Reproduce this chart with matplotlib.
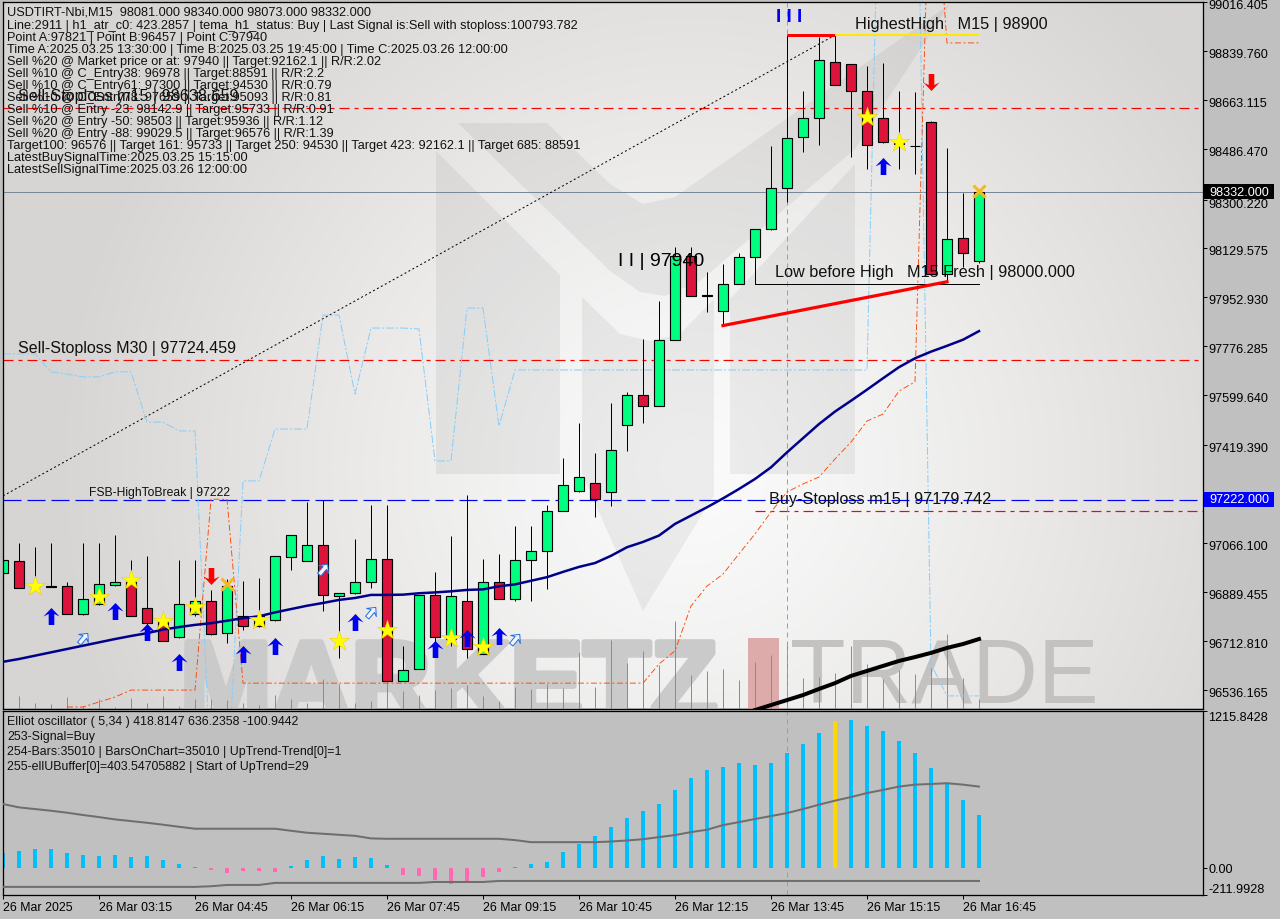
import numpy as np
import matplotlib
matplotlib.use("Agg")
import matplotlib.pyplot as plt
import matplotlib.patheffects as pe
from matplotlib.path import Path
from matplotlib.patches import Polygon, Rectangle
from matplotlib.transforms import Affine2D, ScaledTranslation, blended_transform_factory

plt.rcParams['font.family'] = ['Liberation Sans', 'DejaVu Sans']
plt.rcParams['lines.scale_dashes'] = False

# ---------- data ----------
opens = [96956,97000,96911,96911,96911,96811,96845,96915,96923,96830,96779,96725,96808,96855,96740,96801,96767,96789,97016,97002,97057,96875,96886,96923,97006,96567,96610,96877,96719,96855,96664,96923,96862,97003,97035,97179,97254,97280,97250,97492,97598,97560,97798,98101,97957,97903,97998,98095,98198,98344,98528,98596,98798,98793,98693,98596,98504,98496,98582,98035,98164,98081]
closes = [97004,96902,96909,96908,96808,96862,96916,96925,96803,96778,96711,96844,96856,96738,96909,96765,96803,97017,97093,97057,96877,96884,96923,97006,96567,96606,96877,96725,96873,96682,96923,96862,97003,97035,97179,97273,97302,97225,97399,97598,97560,97798,98100,97957,97959,97998,98095,98196,98344,98524,98596,98805,98715,98693,98499,98512,98508,98498,98035,98160,98110,98332]
highs = [97094,97065,97051,97065,96923,97065,97065,97094,97004,97017,96803,97004,97004,96896,96935,96928,96939,97017,97093,97214,97221,96884,97080,97202,97202,96695,96877,96961,97090,97238,97008,97026,97127,97127,97202,97372,97498,97390,97570,97608,97801,97937,98132,98131,98041,98071,98111,98196,98497,98896,98694,98888,98896,98793,98785,98796,98693,98690,98585,98488,98327,98340]
lows = [96950,96902,96899,96905,96808,96807,96842,96911,96801,96731,96711,96723,96803,96735,96705,96753,96761,96785,96969,97002,96821,96651,96881,96904,96567,96567,96610,96695,96695,96651,96664,96862,96857,96857,96899,97179,97250,97160,97200,97397,97498,97560,97798,97957,97899,97849,97998,97998,98195,98296,98476,98501,98715,98458,98415,98506,98415,98397,98035,98011,98059,98073]
volumes = [80,130,60,50,120,30,100,20,110,60,130,30,100,100,90,60,40,140,100,60,300,250,60,80,330,180,140,190,210,240,130,80,220,200,250,210,570,220,690,460,580,440,880,340,380,400,290,470,540,650,310,320,360,630,450,300,390,350,410,750,310,100]
ma_navy = [96637,96647,96659,96671,96683,96695,96707,96719,96730,96740,96753,96762,96770,96776,96785,96794,96801,96815,96827,96839,96849,96860,96867,96878,96878,96879,96884,96887,96891,96896,96898,96909,96916,96929,96942,96961,96979,96993,97019,97050,97069,97092,97134,97164,97194,97226,97260,97296,97338,97392,97443,97494,97539,97578,97618,97659,97699,97731,97755,97776,97798,97829]
ma_black_bars = list(range(47, 62))
ma_black = [96463,96481,96499,96517,96539,96560,96586,96604,96622,96640,96654,96669,96687,96701,96719]
nan = float('nan')
orange_band = [nan,nan,nan,nan,96474,96474,96492,96510,96535,96535,96535,96535,96535,97223,97223]+[96560]*26+[96629,96676,96838,96910,96953,97026,97098,97177,97249,97278,97303,97368,97429,97505,97530,97613,97646,99657,98868,98868,98868]
skyblue_band = [97747,97747,97747,97682,97674,97664,97664,97682,97682,97501,97501,97469,97469,96214,96142,97289,97289,97476,97476,97476,97887,97887,97602,97840,97840,97840,97837,97361,97361,97912,97912,97487]+[97689]*23+[100144,100144,100108,96629,96514,96514,96514]

star_bars = [2,6,8,10,12,16,21,24,28,30,54,56]
star_prices = [96910,96871,96932,96784,96834,96788,96712,96752,96723,96690,98601,98511]
up_bars = [3,7,9,11,15,17,22,27,29,31,55]
up_prices = [96802,96820,96744,96636,96665,96694,96780,96683,96723,96730,98424]
hollow_bars = [5,20,23,32]
hollow_prices = [96723,96971,96816,96719]
down_bars = [13,58]
down_prices = [96946,98727]
cross_bars = [14,61]
cross_prices = [96917,98334]

osc_hist = [116,132,147,147,116,101,93,101,85,93,62,31,8,-16,-36,-21,-21,-31,16,62,93,70,85,78,23,-54,-62,-93,-124,-101,-70,-31,8,31,47,124,186,248,318,388,442,497,605,698,761,784,815,799,815,892,962,1040,1133,1141,1094,1055,978,885,776,652,528,411]
osc_upper = [494,468,455,442,427,409,393,375,362,349,334,318,303,303,303,303,303,303,287,272,264,256,248,228,225,225,225,225,225,225,225,225,215,199,199,199,199,199,204,212,222,238,254,277,295,331,354,378,401,424,455,489,520,548,579,603,629,644,649,655,644,629]
osc_lower = [-147]*13+[-142,-132,-132,-132]+[-116]*10+[-109]*4+[-101]*31

price_ticks = [99016.405,98839.760,98663.115,98486.470,98300.220,98129.575,97952.930,97776.285,97599.640,97419.390,97242.745,97066.100,96889.455,96712.810,96536.165]
time_ticks = list(range(0, 61, 6))
time_labels = ['26 Mar 2025','26 Mar 03:15','26 Mar 04:45','26 Mar 06:15','26 Mar 07:45','26 Mar 09:15','26 Mar 10:45','26 Mar 12:15','26 Mar 13:45','26 Mar 15:15','26 Mar 16:45']
osc_ticks = [1215.8428, 0.0, -211.9928]
osc_tick_labels = ['1215.8428', '0.00', '-211.9928']

info_lines = [
 "USDTIRT-Nbi,M15  98081.000 98340.000 98073.000 98332.000",
 "Line:2911 | h1_atr_c0: 423.2857 | tema_h1_status: Buy | Last Signal is:Sell with stoploss:100793.782",
 "Point A:97821 | Point B:96457 | Point C:97940",
 "Time A:2025.03.25 13:30:00 | Time B:2025.03.25 19:45:00 | Time C:2025.03.26 12:00:00",
 "Sell %20 @ Market price or at: 97940 || Target:92162.1 || R/R:2.02",
 "Sell %10 @ C_Entry38: 96978 || Target:88591 || R/R:2.2",
 "Sell %10 @ C_Entry61: 97300 || Target:94530 || R/R:0.79",
 "Sell %10 @ C_Entry78: 97659 || Target:95093 || R/R:0.81",
 "Sell %10 @ Entry -23: 98142.9 || Target:95733 || R/R:0.91",
 "Sell %20 @ Entry -50: 98503 || Target:95936 || R/R:1.12",
 "Sell %20 @ Entry -88: 99029.5 || Target:96576 || R/R:1.39",
 "Target100: 96576 || Target 161: 95733 || Target 250: 94530 || Target 423: 92162.1 || Target 685: 88591",
 "LatestBuySignalTime:2025.03.25 15:15:00",
 "LatestSellSignalTime:2025.03.26 12:00:00",
]
osc_lines = [
 "Elliot oscillator ( 5,34 ) 418.8147 636.2358 -100.9442",
 "253-Signal=Buy",
 "254-Bars:35010 | BarsOnChart=35010 | UpTrend-Trend[0]=1",
 "255-ellUBuffer[0]=403.54705882 | Start of UpTrend=29",
]

# ---------- layout (pixels) ----------
W, H = 1280, 920
L, R, T1, B1, T2, B2 = 2.5, 1203, 2.7, 709.5, 711.7, 896.3
PT = 0.72
fig = plt.figure(figsize=(W/100, H/100), dpi=100, facecolor='#c0c0c0')
pxt = Affine2D().scale(1/W, -1/H).translate(0, 1) + fig.transFigure

def rect(t, b):
    return [L/W, 1-b/H, (R-L)/W, (b-t)/H]

# background with watermark
bg = fig.add_axes(rect(T1, B1), zorder=0)
bg.set_xlim(L, R); bg.set_ylim(B1, T1); bg.axis('off')
xx, yy = np.meshgrid(np.linspace(L, R, 300), np.linspace(T1, B1, 200))
t = np.clip(np.sqrt(((xx-690)/640)**2 + ((yy-470)/640)**2), 0, 1)**1.2
img = np.dstack([251-36*t, 251-38*t, 251-40*t])/255
bg.imshow(img, extent=(L, R, B1, T1), aspect='auto', zorder=0, interpolation='bilinear')
wm_polys = [
 [(436,152),(560,276),(560,475),(436,475)],
 [(582,298),(620,335),(650,342),(680,335),(714,300),(714,496),(643,612),(582,475)],
 [(730,300),(855,165),(855,475),(730,475)],
 [(458,124),(547,124),(610,185),(643,205),(675,198),(950,5),(855,150),(700,282),(665,297),(640,293),(610,272)],
]
for p in wm_polys:
    bg.add_patch(Polygon(p, closed=True, fc='black', ec='none', alpha=0.055, zorder=1))
bg.add_patch(Rectangle((748, 639), 31, 72, fc='#deabab', ec='none', zorder=1.5))
mk = bg.text(180, 719, 'MARKETZ', fontsize=110*PT, fontweight='bold', color='#cacaca',
             va='baseline', ha='left', clip_on=True, zorder=1.2, fontfamily='Liberation Sans')
mk.set_path_effects([pe.withStroke(linewidth=4.5, foreground='#cacaca')])
bg.text(790, 703, 'TRADE', fontsize=91*PT, color='#c4c2c0',
        va='baseline', ha='left', clip_on=True, zorder=1.2, fontfamily='Liberation Sans')

# axes scale
PTOP = 97222 + (500.5-T1)*3.605
PBOT = 97222 - (B1-500.5)*3.605
XL, XR = (L-3)/16, (R-3)/16
k = np.arange(len(opens))

# volume
av = fig.add_axes(rect(T1, B1), zorder=1)
av.patch.set_visible(False); av.axis('off')
av.set_xlim(XL, XR); av.set_ylim(0, 7068)
av.vlines(k, 0, volumes, color='#32CD32', lw=1*PT).set_snap(True)

# main pane
ax = fig.add_axes(rect(T1, B1), zorder=2)
ax.patch.set_visible(False)
ax.set_xlim(XL, XR); ax.set_ylim(PBOT, PTOP)
for s in ax.spines.values():
    s.set_linewidth(1.0*PT+0.2); s.set_color('black')

RED = '#FF0000'
dashdot = (0, (10*PT, 5*PT, 4*PT, 5*PT))
ax.axhline(98632, color=RED, lw=1.2*PT, ls=dashdot, zorder=1)
ax.axhline(97724.459, color=RED, lw=1.2*PT, ls=dashdot, zorder=1)
ax.plot([47, XR], [97179.742, 97179.742], color=RED, lw=1.2*PT, ls=dashdot, zorder=1)
ax.axhline(97222, color='#0000FF', lw=1.2*PT, ls=(0, (18*PT, 6*PT)), zorder=1)
ax.axhline(98332, color='#778899', lw=1*PT, zorder=1)
ax.plot([0, 52], [97235, 98896], color='black', lw=1*PT, ls=(0, (2*PT, 2.5*PT)), zorder=1)
ax.axvline(49, color='#FF69B4', lw=1*PT, ls=(0, (5*PT, 4*PT)), zorder=1)

ax.plot(k, skyblue_band, color='#87CEFA', lw=1*PT, ls=(0, (8*PT, 2*PT, 2*PT, 2*PT)), zorder=1.5)
ax.plot(k, orange_band, color='#FF4500', lw=0.9*PT, ls=(0, (6*PT, 2.5*PT, 2*PT, 2.5*PT)), zorder=1.5)

# candles
o, c, hi, lo = map(np.array, (opens, closes, highs, lows))
ax.vlines(k, lo, hi, color='black', lw=1*PT, zorder=2).set_snap(True)
up = c >= o
col = np.where(up, '#00FF7F', '#DC143C')
ax.bar(k, np.abs(c-o), bottom=np.minimum(o, c), width=0.62, color=col, edgecolor='black',
       linewidth=1*PT+0.1, zorder=2.2)

ax.plot(k, ma_navy, color='#00008B', lw=2.5*PT, zorder=3)
ax.plot(ma_black_bars, ma_black, color='black', lw=4*PT, zorder=3)

# levels
ax.plot([49, 52], [98896, 98896], color='#FF0000', lw=3*PT, zorder=3, solid_capstyle='butt')
ax.plot([52, 61], [98896, 98896], color='#FFE800', lw=2*PT, zorder=3, solid_capstyle='butt')
ax.plot([47, 47, 61], [98095, 97998, 97998], color='black', lw=1*PT, zorder=2.1)
ax.plot([45, 59], [97849, 98007], color='#FF0000', lw=3.2*PT, zorder=3)

# markers
arrow = np.array([(0,1),(0.95,0.0),(0.33,0.3),(0.33,-1),(-0.33,-1),(-0.33,0.3),(-0.95,0.0),(0,1)], float)
up_path = Path(arrow, closed=True)
down_path = Path(arrow*[1,-1], closed=True)
th = np.deg2rad(-40)
rot = np.array([[np.cos(th), -np.sin(th)],[np.sin(th), np.cos(th)]])
slant_path = Path(arrow @ rot.T, closed=True)
ax.scatter(star_bars, star_prices, marker='*', s=(21*PT)**2, c='#FFFF00', edgecolors='#F0C000', linewidths=0.3, zorder=4)
ax.scatter(up_bars, up_prices, marker=up_path, s=(17*PT)**2, c='#0000F0', linewidths=0, zorder=4.2)
ax.scatter(down_bars, down_prices, marker=down_path, s=(17*PT)**2, c='#FF0000', linewidths=0, zorder=4.2)
ax.scatter(hollow_bars, hollow_prices, marker=slant_path, s=(13*PT)**2, facecolors='#F4F4FF',
           edgecolors='#1E70E0', linewidths=0.7, zorder=4.2)
ax.scatter(cross_bars, cross_prices, marker='x', s=(12*PT)**2, c='#F5B820', linewidths=3*PT, zorder=4.2)

# labels
def lab(x, y, s, size, color='#101010', **kw):
    ax.text(x, y, s, transform=pxt, fontsize=size*PT, color=color, va='center', ha='left', zorder=6, **kw)

for i, line in enumerate(info_lines):
    lab(7, 12.7 if i == 0 else 25.7 + (i-1)*12, line, 12.7)
lab(18, 97, 'Sell-Stoploss m15 | 98638.659', 16.1)
lab(18, 349, 'Sell-Stoploss M30 | 97724.459', 16)
lab(89, 493, 'FSB-HighToBreak | 97222', 12.1)
lab(855, 24, 'HighestHigh   M15 | 98900', 16.2)
lab(775, 273, 'Low before High   M15 Fresh | 98000.000', 16.2)
lab(769, 500, 'Buy-Stoploss m15 | 97179.742', 16.3)
lab(618, 262, 'I I | 97940', 19.5, color='black')
lab(776, 17, 'I I I', 19, color='#0000FF', fontweight='bold')

# right axis of main pane
ax.yaxis.tick_right()
ax.set_yticks(price_ticks)
ax.set_yticklabels(['%.3f' % v for v in price_ticks])
ax.tick_params(axis='y', length=4*PT, width=1*PT, pad=1, labelsize=12.6*PT, colors='black')
ax.set_xticks([])
shift = ScaledTranslation(0, -1.5/72, fig.dpi_scale_trans)
for lbl in ax.get_yticklabels():
    lbl.set_transform(lbl.get_transform() + shift)
bx = blended_transform_factory(pxt, ax.transData)
for price, txt, fc in ((98332, '98332.000', '#000000'), (97222, '97222.000', '#0000FF')):
    ax.add_patch(Rectangle((1204, price-7.2*3.605), 70, 14.4*3.605, transform=bx, fc=fc, ec='none',
                           clip_on=False, zorder=6.5))
    ax.text(1209, price, txt, transform=bx, fontsize=12.6*PT, color='white', va='center', ha='left',
            clip_on=False, zorder=7)

# oscillator pane
a2 = fig.add_axes(rect(T2, B2), zorder=2, facecolor='#c0c0c0')
a2.set_xlim(XL, XR); a2.set_ylim(osc_ticks[2], osc_ticks[0])
for s in a2.spines.values():
    s.set_linewidth(1.0*PT+0.2); s.set_color('black')
a2.axvline(49, color='#FF69B4', lw=1*PT, ls=(0, (5*PT, 4*PT)), zorder=1)
hist = np.array(osc_hist)
hcol = np.where(hist >= 0, '#00BFFF', '#FF69B4').astype(object)
hcol[52] = '#FFD700'
a2.bar(k, hist, width=0.23, color=list(hcol), linewidth=0, zorder=2)
a2.plot(k, osc_upper, color='#6E6E6E', lw=2*PT, zorder=3)
a2.plot(k, osc_lower, color='#6E6E6E', lw=2*PT, zorder=3)
a2.yaxis.tick_right()
a2.set_yticks(osc_ticks)
a2.set_yticklabels(osc_tick_labels)
a2.tick_params(axis='y', length=4*PT, width=1*PT, pad=1, labelsize=12.6*PT)
ylabs = a2.get_yticklabels()
ylabs[0].set_va('top'); ylabs[2].set_va('bottom')
a2.set_xticks(time_ticks)
a2.set_xticklabels(time_labels, ha='left')
a2.tick_params(axis='x', length=4*PT, width=1*PT, pad=1.5, labelsize=12.4*PT)
for i, line in enumerate(osc_lines):
    a2.text(7, 722.3 + i*15, line, transform=pxt, fontsize=12.4*PT, color='#101010', va='center', ha='left')

fig.savefig('out.png', dpi=100, facecolor=fig.get_facecolor())
